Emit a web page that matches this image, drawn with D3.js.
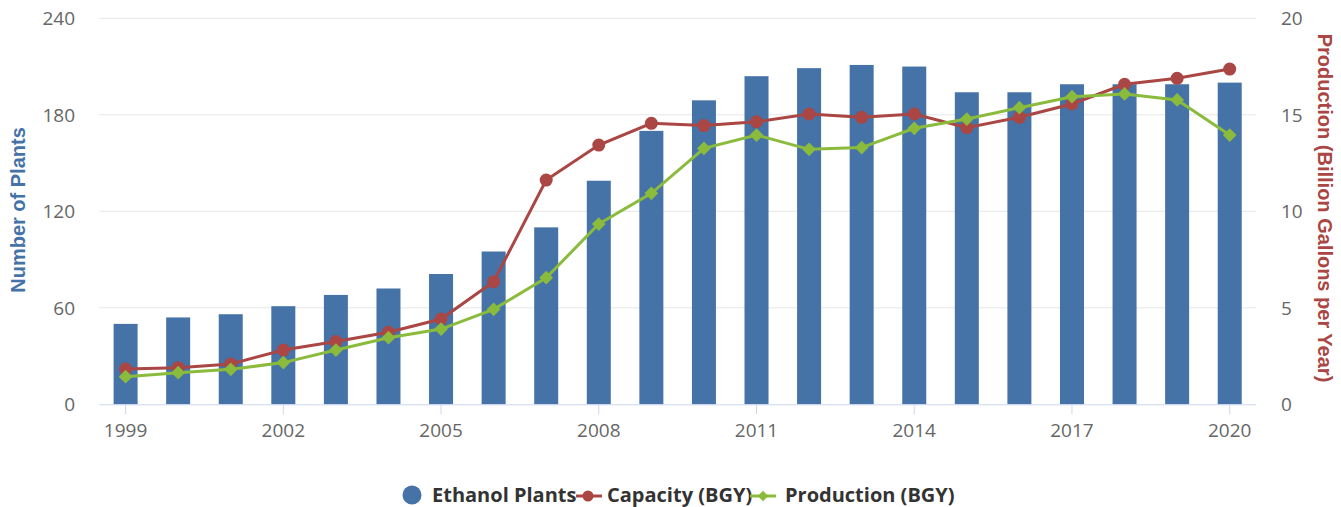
<!DOCTYPE html>
<html>
<head>
<meta charset="utf-8">
<script src="https://cdn.jsdelivr.net/npm/d3@7"></script>
<style>
  html, body { margin: 0; padding: 0; background: #fff; }
  svg text { font-family: "Open Sans", sans-serif; }
</style>
</head>
<body>
<svg id="chart" width="1341" height="507"></svg>
<script>
// Ethanol plants vs capacity / production, 1999-2020
const years = d3.range(1999, 2021);
const plants = [50, 54, 56, 61, 68, 72, 81, 95, 110, 139, 170, 189, 204, 209, 211, 210, 194, 194, 199, 199, 199, 200];
const capacity = [1.83, 1.9, 2.09, 2.81, 3.25, 3.73, 4.42, 6.35, 11.62, 13.43, 14.56, 14.44, 14.64, 15.04, 14.87, 15.04, 14.33, 14.87, 15.56, 16.58, 16.89, 17.37];
const production = [1.43, 1.64, 1.81, 2.16, 2.81, 3.45, 3.9, 4.92, 6.56, 9.34, 10.93, 13.26, 13.95, 13.21, 13.3, 14.3, 14.78, 15.37, 15.94, 16.08, 15.77, 13.95];
const leftTicks = [0, 60, 120, 180, 240];
const rightTicks = [0, 5, 10, 15, 20];
const xLabels = [1999, 2002, 2005, 2008, 2011, 2014, 2017, 2020];

const BLUE = '#4572a7', RED = '#aa4643', GREEN = '#8bbb3c';

const svg = d3.select('#chart');
const plotLeft = 99.3, plotRight = 1256, plotTop = 18.3, plotBottom = 404.3;

const x = d3.scaleBand().domain(years).range([plotLeft, plotRight]).padding(0);
const yL = d3.scaleLinear().domain([0, 240]).range([plotBottom, plotTop]);
const yR = d3.scaleLinear().domain([0, 20]).range([plotBottom, plotTop]);
const cx = d => x(d) + x.bandwidth() / 2;

// grid
svg.append('g').selectAll('line').data(leftTicks.slice(1)).join('line')
    .attr('x1', plotLeft).attr('x2', plotRight)
    .attr('y1', d => yL(d)).attr('y2', d => yL(d))
    .attr('stroke', '#e6e6e6').attr('stroke-width', 1);

// left axis labels
svg.append('g').selectAll('text').data(leftTicks).join('text')
    .attr('x', 75).attr('y', d => yL(d) + 7)
    .attr('text-anchor', 'end').attr('fill', '#666').style('font-size', '19px')
    .text(d => d);

// right axis labels
svg.append('g').selectAll('text').data(rightTicks).join('text')
    .attr('x', 1281).attr('y', d => yR(d) + 7)
    .attr('text-anchor', 'start').attr('fill', '#666').style('font-size', '19px')
    .text(d => d);

// bars
svg.append('g').selectAll('rect').data(years).join('rect')
    .attr('x', d => cx(d) - 12)
    .attr('width', 24)
    .attr('y', (d, i) => yL(plants[i]))
    .attr('height', (d, i) => plotBottom - yL(plants[i]))
    .attr('fill', BLUE);

// x axis
svg.append('line').attr('x1', plotLeft).attr('x2', plotRight)
    .attr('y1', plotBottom + 0.5).attr('y2', plotBottom + 0.5)
    .attr('stroke', '#ccd6eb');
svg.append('g').selectAll('line').data(xLabels).join('line')
    .attr('x1', d => cx(d)).attr('x2', d => cx(d))
    .attr('y1', plotBottom).attr('y2', plotBottom + 10)
    .attr('stroke', '#ccd6eb');
svg.append('g').selectAll('text').data(xLabels).join('text')
    .attr('x', d => cx(d)).attr('y', 437)
    .attr('text-anchor', 'middle').attr('fill', '#666').style('font-size', '19px')
    .text(d => d);

// lines
const line = d3.line().x((d, i) => cx(years[i])).y(d => yR(d));
svg.append('path').datum(capacity).attr('d', line)
    .attr('fill', 'none').attr('stroke', RED).attr('stroke-width', 3);
svg.append('g').selectAll('circle').data(capacity).join('circle')
    .attr('cx', (d, i) => cx(years[i])).attr('cy', d => yR(d)).attr('r', 6.5)
    .attr('fill', RED);

svg.append('path').datum(production).attr('d', line)
    .attr('fill', 'none').attr('stroke', GREEN).attr('stroke-width', 3);
const diamond = d3.symbol().type(d3.symbolDiamond2).size(120);
svg.append('g').selectAll('path').data(production).join('path')
    .attr('d', diamond)
    .attr('transform', (d, i) => `translate(${cx(years[i])},${yR(d)})`)
    .attr('fill', GREEN);

// axis titles
svg.append('text')
    .attr('transform', 'translate(25,210) rotate(-90)')
    .attr('text-anchor', 'middle').attr('fill', BLUE)
    .style('font-family', '"Liberation Sans", Arial, sans-serif')
    .style('font-size', '20px').style('font-weight', 'bold')
    .text('Number of Plants');
svg.append('text')
    .attr('transform', 'translate(1318,208) rotate(90)')
    .attr('text-anchor', 'middle').attr('fill', RED)
    .style('font-family', '"Liberation Sans", Arial, sans-serif')
    .style('font-size', '20px').style('font-weight', 'bold')
    .text('Production (Billion Gallons per Year)');

// legend
const lg = svg.append('g').attr('transform', 'translate(0,495)')
    .style('font-size', '20px').style('font-weight', 'bold');
lg.append('circle').attr('cx', 412).attr('cy', 0).attr('r', 9.5).attr('fill', BLUE);
lg.append('text').attr('x', 432).attr('y', 7).attr('fill', '#333').text('Ethanol Plants');
lg.append('line').attr('x1', 576).attr('x2', 602).attr('y1', 1).attr('y2', 1)
    .attr('stroke', RED).attr('stroke-width', 3);
lg.append('circle').attr('cx', 588).attr('cy', 1).attr('r', 5.5).attr('fill', RED);
lg.append('text').attr('x', 607).attr('y', 7).attr('fill', '#333').text('Capacity (BGY)');
lg.append('line').attr('x1', 750).attr('x2', 776).attr('y1', 1).attr('y2', 1)
    .attr('stroke', GREEN).attr('stroke-width', 3);
lg.append('path').attr('d', d3.symbol().type(d3.symbolDiamond2).size(70))
    .attr('transform', 'translate(763,1)').attr('fill', GREEN);
lg.append('text').attr('x', 785).attr('y', 7).attr('fill', '#333').text('Production (BGY)');
</script>
</body>
</html>
